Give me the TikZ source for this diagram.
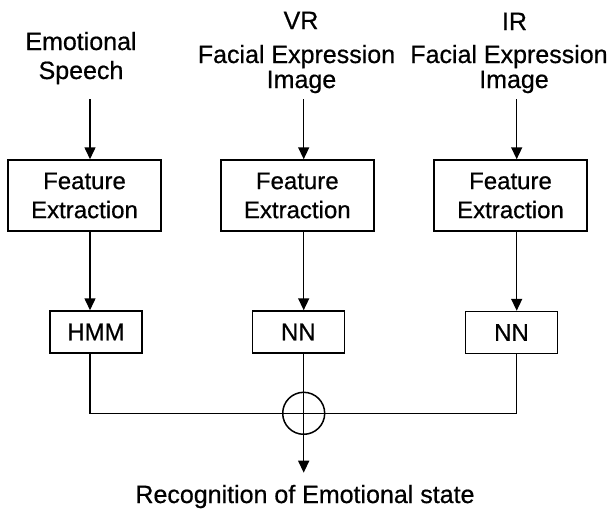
\documentclass[tikz,border=0pt]{standalone}
\usepackage{fontspec}
\setmainfont{Liberation Sans}[UprightFeatures={FakeBold=0.6}]
\usetikzlibrary{arrows.meta}
\begin{document}
\begin{tikzpicture}[x=1pt,y=-1pt,
  every node/.style={inner sep=0pt},
  lbl/.style={anchor=base,font=\fontsize{25}{29}\selectfont},
  fe/.style={draw,line width=1.5pt,minimum width=153pt,minimum height=71pt,
    align=center,font=\fontsize{24}{29}\selectfont},
  clf/.style={draw,line width=1.5pt,minimum width=92pt,minimum height=42pt,
    font=\fontsize{24}{29}\selectfont},
  wire/.style={line width=1.5pt},
  arr/.style={wire,-{Triangle[length=12pt,width=11pt]}}]
\useasboundingbox (0,0) rectangle (616,509);

% input labels
\node[lbl] (in1a) at (81,50) {Emotional};
\node[lbl] (in1b) at (81,79) {Speech};
\node[lbl] (in2a) at (301,29) {VR};
\node[lbl] (in2b) at (296.5,63) {Facial Expression};
\node[lbl] (in2c) at (301.5,88) {Image};
\node[lbl] (in3a) at (514.5,30) {IR};
\node[lbl] (in3b) at (509,63) {Facial Expression};
\node[lbl] (in3c) at (514,88) {Image};

% feature extraction stage
\node[fe] (fe1) at (84.5,195.5) {Feature\\Extraction};
\node[fe] (fe2) at (297.3,195.5) {Feature\\Extraction};
\node[fe] (fe3) at (510.5,195.5) {Feature\\Extraction};

% classifiers
\node[clf] (hmm) at (96,332) {HMM};
\node[clf] (nn2) at (298.3,332) {NN};
\node[clf] (nn3) at (511.5,332.5) {NN};

% fusion
\node[draw,circle,wire,minimum size=42pt] (sum) at (303.7,413.3) {};
\node[lbl] (res) at (305,503) {Recognition of Emotional state};

% signal columns
\coordinate (t1) at (90,99);
\coordinate (t2) at (303.7,99);
\coordinate (t3) at (516.7,99);
\coordinate (out) at (303.7,472.7);

\draw[arr] (t1) -- (t1 |- fe1.north);
\draw[arr] (t2) -- (t2 |- fe2.north);
\draw[arr] (t3) -- (t3 |- fe3.north);

\draw[arr] (fe1.south -| t1) -- (hmm.north -| t1);
\draw[arr] (fe2.south -| t2) -- (nn2.north -| t2);
\draw[arr] (fe3.south -| t3) -- (nn3.north -| t3);

\draw[wire] (hmm.south -| t1) |- (sum.center) -| (nn3.south -| t3);
\draw[arr] (nn2.south -| t2) -- (out);
\end{tikzpicture}
\end{document}
